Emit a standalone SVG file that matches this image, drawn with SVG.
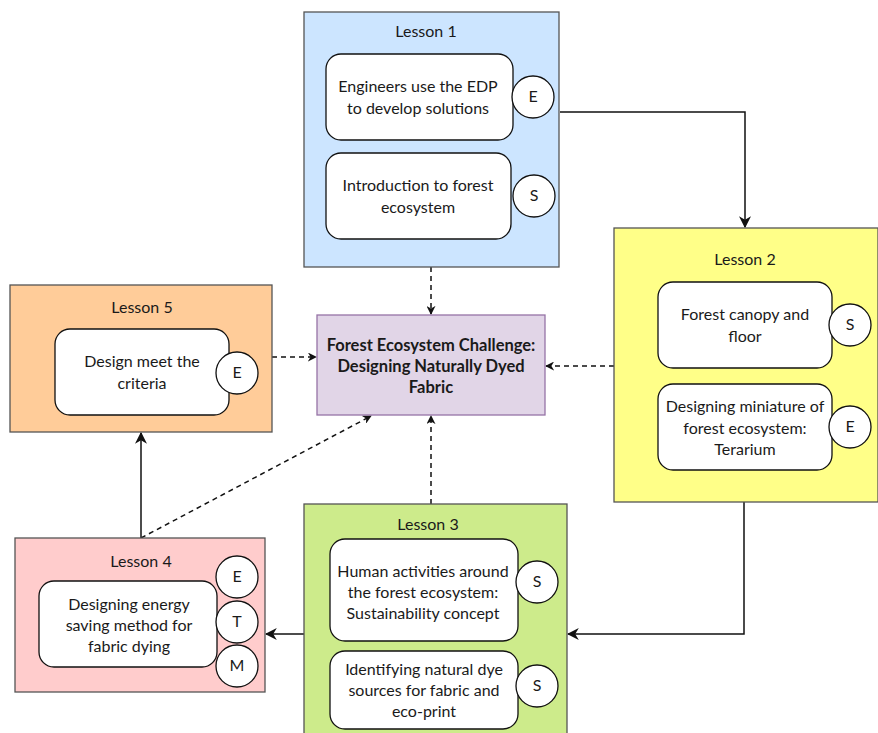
<svg xmlns="http://www.w3.org/2000/svg" width="878" height="733" viewBox="0 0 878 733">
<defs>
<style>
text{font-family:Lato,"Open Sans","Liberation Sans",sans-serif;font-size:16px;fill:#1a1a1a;text-anchor:middle}
.b{font-weight:bold;font-size:16.5px}
.lesson{stroke:#555;stroke-width:1.3}
.inner{fill:#fff;stroke:#111;stroke-width:1.3}
.c{fill:#fff;stroke:#111;stroke-width:1.3}
.ln{fill:none;stroke:#111;stroke-width:1.5}
.d{stroke-dasharray:5 4}
</style>
<marker id="ah" viewBox="0 0 10 10" refX="9" refY="5" markerWidth="9" markerHeight="9" markerUnits="userSpaceOnUse" orient="auto"><path d="M0,0 L10,5 L0,10 L3,5 Z" fill="#111"/></marker>
<marker id="ahb" viewBox="0 0 10 10" refX="9" refY="5" markerWidth="12" markerHeight="12" markerUnits="userSpaceOnUse" orient="auto"><path d="M0,0 L10,5 L0,10 L3,5 Z" fill="#111"/></marker>
</defs>
<g id="connectors">
<path class="ln" d="M560,112 H745 V227" marker-end="url(#ahb)"/>
<path class="ln d" d="M431,267 V314" marker-end="url(#ah)"/>
<path class="ln d" d="M614,366 H546" marker-end="url(#ah)"/>
<path class="ln d" d="M272,357 H316" marker-end="url(#ah)"/>
<path class="ln d" d="M431,504 V416" marker-end="url(#ah)"/>
<path class="ln d" d="M141,538 L371,416" marker-end="url(#ah)"/>
<path class="ln" d="M141,538 V433" marker-end="url(#ahb)"/>
<path class="ln" d="M744,502 V634 H568" marker-end="url(#ahb)"/>
<path class="ln" d="M304,634 H266" marker-end="url(#ahb)"/>
</g>
<g id="lesson1">
<rect class="lesson" x="304" y="12" width="255" height="255" fill="#cce5ff"/>
<text x="426" y="37">Lesson 1</text>
<rect class="inner" x="326" y="54" width="187" height="86" rx="15"/>
<text x="418" y="92">Engineers use the EDP</text>
<text x="418" y="114">to develop solutions</text>
<circle class="c" cx="533" cy="97" r="21"/><text x="533" y="102">E</text>
<rect class="inner" x="326" y="153" width="185" height="86" rx="15"/>
<text x="418" y="191">Introduction to forest</text>
<text x="418" y="213">ecosystem</text>
<circle class="c" cx="534" cy="196" r="21"/><text x="534" y="201">S</text>
</g>
<g id="lesson2">
<rect class="lesson" x="614" y="228" width="264" height="274" fill="#ffff88"/>
<text x="745" y="265">Lesson 2</text>
<rect class="inner" x="658" y="282" width="174" height="86" rx="15"/>
<text x="745" y="320">Forest canopy and</text>
<text x="745" y="342">floor</text>
<circle class="c" cx="850" cy="325" r="21"/><text x="850" y="330">S</text>
<rect class="inner" x="658" y="384" width="174" height="86" rx="15"/>
<text x="745" y="412">Designing miniature of</text>
<text x="745" y="434">forest ecosystem:</text>
<text x="745" y="455">Terarium</text>
<circle class="c" cx="850" cy="427" r="21"/><text x="850" y="432">E</text>
</g>
<g id="lesson5">
<rect class="lesson" x="10" y="285" width="262" height="147" fill="#ffcc99"/>
<text x="142" y="313">Lesson 5</text>
<rect class="inner" x="55" y="329" width="174" height="86" rx="15"/>
<text x="142" y="367">Design meet the</text>
<text x="142" y="389">criteria</text>
<circle class="c" cx="237" cy="373" r="21"/><text x="237" y="378">E</text>
</g>
<g id="center">
<rect x="317" y="315" width="228" height="100" fill="#e1d5e7" stroke="#9673a6" stroke-width="1.3"/>
<text class="b" x="431" y="351">Forest Ecosystem Challenge:</text>
<text class="b" x="431" y="372">Designing Naturally Dyed</text>
<text class="b" x="431" y="393">Fabric</text>
</g>
<g id="lesson4">
<rect class="lesson" x="15" y="538" width="250" height="154" fill="#ffcccc"/>
<text x="141" y="567">Lesson 4</text>
<rect class="inner" x="39" y="581" width="178" height="86" rx="15"/>
<text x="129" y="610">Designing energy</text>
<text x="129" y="631">saving method for</text>
<text x="129" y="652">fabric dying</text>
<circle class="c" cx="237" cy="577" r="21"/><text x="237" y="582">E</text>
<circle class="c" cx="237" cy="622" r="21"/><text x="237" y="627">T</text>
<circle class="c" cx="237" cy="666" r="21"/><text x="237" y="671">M</text>
</g>
<g id="lesson3">
<rect class="lesson" x="304" y="504" width="263" height="235" fill="#cdeb8b"/>
<text x="428" y="530">Lesson 3</text>
<rect class="inner" x="330" y="539" width="188" height="102" rx="15"/>
<text x="423" y="577">Human activities around</text>
<text x="423" y="598">the forest ecosystem:</text>
<text x="423" y="619">Sustainability concept</text>
<circle class="c" cx="537" cy="582" r="21"/><text x="537" y="587">S</text>
<rect class="inner" x="330" y="651" width="188" height="78" rx="15"/>
<text x="424" y="675">Identifying natural dye</text>
<text x="424" y="696">sources for fabric and</text>
<text x="424" y="717">eco-print</text>
<circle class="c" cx="537" cy="686" r="21"/><text x="537" y="691">S</text>
</g>
</svg>
